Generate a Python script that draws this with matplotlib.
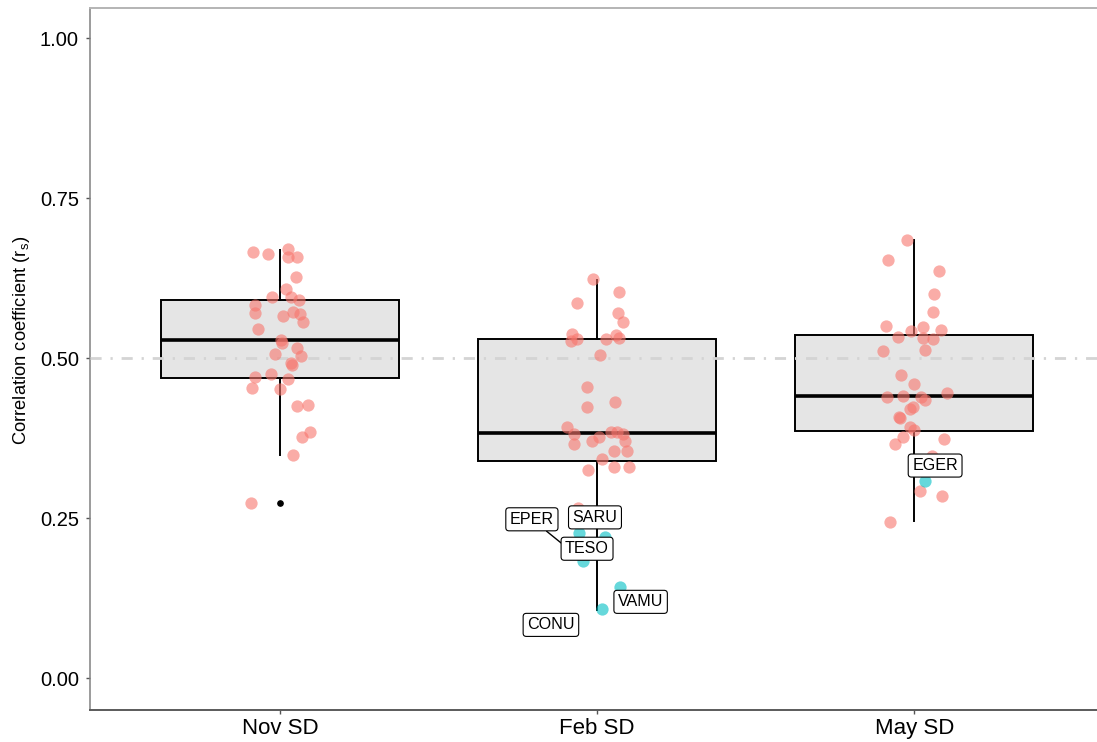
import numpy as np
import matplotlib
matplotlib.use("Agg")
import matplotlib.pyplot as plt

plt.rcParams['font.family'] = ['Liberation Sans', 'DejaVu Sans']

# sampling dates
groups = ['Nov SD', 'Feb SD', 'May SD']

# box summaries (q1, median, q3, whisker ends)
q1 = [0.469, 0.339, 0.386]
med = [0.528, 0.383, 0.441]
q3 = [0.591, 0.530, 0.536]
whis_lo = [0.348, 0.106, 0.245]
whis_hi = [0.669, 0.622, 0.684]
fliers = [[0.273], [], []]

# per-species correlations, with horizontal jitter
nov_r = [0.666, 0.662, 0.670, 0.658, 0.658, 0.626, 0.608, 0.596, 0.595, 0.590,
         0.583, 0.570, 0.572, 0.569, 0.566, 0.556, 0.545, 0.528, 0.523, 0.516,
         0.507, 0.503, 0.493, 0.489, 0.475, 0.470, 0.467, 0.453, 0.451, 0.425,
         0.426, 0.384, 0.377, 0.349, 0.273]
nov_jit = [-0.086, -0.040, 0.026, 0.024, 0.052, 0.049, 0.019, -0.027, 0.033, 0.060,
           -0.078, -0.079, 0.040, 0.062, 0.009, 0.071, -0.069, 0.001, 0.007, 0.052,
           -0.016, 0.066, 0.033, 0.036, -0.028, -0.078, 0.026, -0.088, 0.000, 0.053,
           0.088, 0.095, 0.069, 0.039, -0.092]

feb_r = [0.623, 0.603, 0.586, 0.571, 0.557, 0.538, 0.526, 0.529, 0.529, 0.536,
         0.531, 0.504, 0.455, 0.432, 0.423, 0.392, 0.382, 0.384, 0.384, 0.382,
         0.376, 0.370, 0.370, 0.366, 0.354, 0.354, 0.342, 0.325, 0.329, 0.329,
         0.265]
feb_jit = [-0.014, 0.070, -0.063, 0.066, 0.082, -0.079, -0.084, -0.065, 0.027, 0.059,
           0.070, 0.008, -0.033, 0.057, -0.031, -0.096, -0.074, 0.044, 0.062, 0.080,
           0.007, -0.016, 0.088, -0.072, 0.053, 0.093, 0.016, -0.029, 0.052, 0.100,
           -0.062]

may_r = [0.684, 0.653, 0.636, 0.600, 0.572, 0.550, 0.549, 0.544, 0.542, 0.533,
         0.532, 0.530, 0.511, 0.513, 0.473, 0.460, 0.445, 0.439, 0.441, 0.439,
         0.434, 0.423, 0.420, 0.408, 0.407, 0.392, 0.388, 0.377, 0.365, 0.374,
         0.347, 0.292, 0.285, 0.244]
may_jit = [-0.024, -0.082, 0.079, 0.062, 0.060, -0.088, 0.029, 0.084, -0.011, -0.050,
           0.027, 0.058, -0.097, 0.034, -0.043, -0.001, 0.103, -0.085, -0.036, 0.021,
           0.034, -0.005, -0.013, -0.047, -0.045, -0.013, -0.001, -0.036, -0.062, 0.095,
           0.055, 0.019, 0.088, -0.076]

# species below threshold (highlighted and labelled)
low_sp = ['EPER', 'TESO', 'SARU', 'VAMU', 'CONU', 'EGER']
low_grp = [2, 2, 2, 2, 2, 3]
low_r = [0.183, 0.227, 0.221, 0.142, 0.108, 0.308]
low_jit = [-0.044, -0.057, 0.024, 0.072, 0.014, 0.033]
lab_x = [1.794, 1.968, 1.993, 2.137, 1.854, 3.066]
lab_y = [0.248, 0.202, 0.251, 0.119, 0.083, 0.332]
lab_line = [True, False, False, False, False, False]

fig = plt.figure(figsize=(10.97, 7.42), dpi=100)
ax = fig.add_axes([90 / 1097, 32 / 742, 1007 / 1097, 702 / 742])

stats = []
for i in range(3):
    stats.append(dict(q1=q1[i], med=med[i], q3=q3[i], whislo=whis_lo[i],
                      whishi=whis_hi[i], fliers=fliers[i]))
ax.bxp(stats, positions=[1, 2, 3], widths=0.75, patch_artist=True,
       showcaps=False,
       boxprops=dict(facecolor='#e5e5e5', edgecolor='black', linewidth=1.4),
       medianprops=dict(color='black', linewidth=2.6, solid_capstyle='butt'),
       whiskerprops=dict(color='black', linewidth=1.4),
       flierprops=dict(marker='o', markerfacecolor='black', markeredgecolor='black',
                       markersize=3.8),
       zorder=2)

ax.axhline(0.5, color='#d4d4d4', linewidth=2.0, linestyle=(0, (4.0, 3.2, 0.8, 3.2)),
           zorder=3)

for pos, r, jit in [(1, nov_r, nov_jit), (2, feb_r, feb_jit), (3, may_r, may_jit)]:
    ax.scatter(pos + np.array(jit), r, s=78, color='#F8766D', alpha=0.6,
               linewidths=0, zorder=4)

low_x = np.array(low_grp) + np.array(low_jit)
ax.scatter(low_x, low_r, s=78, color='#00BFC4', alpha=0.6, linewidths=0, zorder=4)

for i, name in enumerate(low_sp):
    arrow = dict(arrowstyle='-', color='black', lw=1.0, shrinkA=0, shrinkB=5) if lab_line[i] else None
    ax.annotate(name, xy=(low_x[i], low_r[i]), xytext=(lab_x[i], lab_y[i]),
                ha='center', va='center', fontsize=11.6, zorder=6,
                bbox=dict(boxstyle='round,pad=0.25,rounding_size=0.2', facecolor='white',
                          edgecolor='black', linewidth=0.8),
                arrowprops=arrow)

ax.set_xlim(0.4, 0.4 + 1007 / 317)
ax.set_ylim(-0.05, 1.047)
ax.set_xticks([1, 2, 3])
ax.set_xticklabels(groups)
ax.set_yticks([0, 0.25, 0.5, 0.75, 1.0])
ax.set_yticklabels(['0.00', '0.25', '0.50', '0.75', '1.00'])
ax.tick_params(axis='both', labelsize=14.5, colors='#555555', labelcolor='black',
               length=3, width=1)
ax.tick_params(axis='x', labelsize=16, pad=3)
ax.tick_params(axis='y', pad=5)

ax.set_ylabel(r'Correlation coefficient (r$_\mathregular{s}$)', fontsize=13.2)
ax.yaxis.set_label_coords(-0.058, 0.527)

ax.spines['right'].set_visible(False)
ax.spines['top'].set_color('#b4b4b4')
ax.spines['top'].set_linewidth(1.4)
ax.spines['left'].set_color('#808080')
ax.spines['left'].set_linewidth(1.1)
ax.spines['bottom'].set_color('#5a5a5a')
ax.spines['bottom'].set_linewidth(1.4)

fig.savefig('out.png', dpi=100)
